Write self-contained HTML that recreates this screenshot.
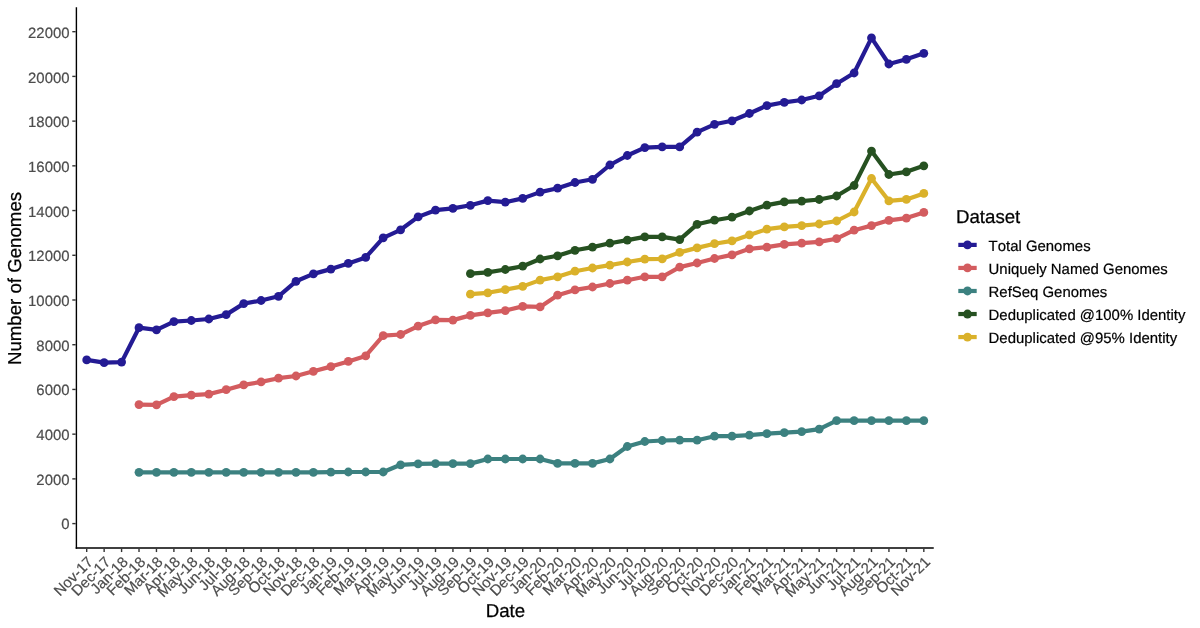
<!DOCTYPE html>
<html lang="en"><head><meta charset="utf-8"><title>Number of Genomes by Date</title>
<style>
html,body{margin:0;padding:0;background:#fff;}
body{width:1200px;height:628px;overflow:hidden;}
svg{display:block;text-rendering:geometricPrecision;font-kerning:none;font-family:"Liberation Sans",sans-serif;}
.tk{font-size:14.93px;fill:#4D4D4D;stroke:#4D4D4D;stroke-width:0.18px;}
.ti{font-size:18.67px;fill:#000;stroke:#000;stroke-width:0.25px;}
.lg{font-size:14.93px;fill:#000;stroke:#000;stroke-width:0.2px;}
</style></head><body>
<svg width="1200" height="628" viewBox="0 0 1200 628">
<rect width="1200" height="628" fill="#fff"/>
<g fill="#241B94" stroke="none"><polyline points="86.7,359.9 104.1,362.6 121.6,362.1 139.0,327.7 156.5,329.8 173.9,321.6 191.3,320.5 208.8,319.0 226.2,314.6 243.7,303.6 261.1,300.5 278.5,296.3 296.0,281.3 313.4,273.9 330.9,269.1 348.3,263.4 365.7,257.4 383.2,237.8 400.6,229.8 418.1,216.9 435.5,210.2 452.9,208.4 470.4,205.3 487.8,200.6 505.3,202.1 522.7,198.4 540.1,192.1 557.6,188.2 575.0,182.5 592.5,179.3 609.9,165.0 627.3,155.5 644.8,147.6 662.2,146.8 679.7,146.9 697.1,132.2 714.5,124.3 732.0,120.8 749.4,113.5 766.9,105.6 784.3,102.3 801.7,100.0 819.2,95.8 836.6,83.7 854.1,73.0 871.5,37.9 888.9,64.0 906.4,59.3 923.8,53.3" fill="none" stroke="#241B94" stroke-width="4.2" stroke-linejoin="round" stroke-linecap="butt"/><circle cx="86.7" cy="359.9" r="4.4"/><circle cx="104.1" cy="362.6" r="4.4"/><circle cx="121.6" cy="362.1" r="4.4"/><circle cx="139.0" cy="327.7" r="4.4"/><circle cx="156.5" cy="329.8" r="4.4"/><circle cx="173.9" cy="321.6" r="4.4"/><circle cx="191.3" cy="320.5" r="4.4"/><circle cx="208.8" cy="319.0" r="4.4"/><circle cx="226.2" cy="314.6" r="4.4"/><circle cx="243.7" cy="303.6" r="4.4"/><circle cx="261.1" cy="300.5" r="4.4"/><circle cx="278.5" cy="296.3" r="4.4"/><circle cx="296.0" cy="281.3" r="4.4"/><circle cx="313.4" cy="273.9" r="4.4"/><circle cx="330.9" cy="269.1" r="4.4"/><circle cx="348.3" cy="263.4" r="4.4"/><circle cx="365.7" cy="257.4" r="4.4"/><circle cx="383.2" cy="237.8" r="4.4"/><circle cx="400.6" cy="229.8" r="4.4"/><circle cx="418.1" cy="216.9" r="4.4"/><circle cx="435.5" cy="210.2" r="4.4"/><circle cx="452.9" cy="208.4" r="4.4"/><circle cx="470.4" cy="205.3" r="4.4"/><circle cx="487.8" cy="200.6" r="4.4"/><circle cx="505.3" cy="202.1" r="4.4"/><circle cx="522.7" cy="198.4" r="4.4"/><circle cx="540.1" cy="192.1" r="4.4"/><circle cx="557.6" cy="188.2" r="4.4"/><circle cx="575.0" cy="182.5" r="4.4"/><circle cx="592.5" cy="179.3" r="4.4"/><circle cx="609.9" cy="165.0" r="4.4"/><circle cx="627.3" cy="155.5" r="4.4"/><circle cx="644.8" cy="147.6" r="4.4"/><circle cx="662.2" cy="146.8" r="4.4"/><circle cx="679.7" cy="146.9" r="4.4"/><circle cx="697.1" cy="132.2" r="4.4"/><circle cx="714.5" cy="124.3" r="4.4"/><circle cx="732.0" cy="120.8" r="4.4"/><circle cx="749.4" cy="113.5" r="4.4"/><circle cx="766.9" cy="105.6" r="4.4"/><circle cx="784.3" cy="102.3" r="4.4"/><circle cx="801.7" cy="100.0" r="4.4"/><circle cx="819.2" cy="95.8" r="4.4"/><circle cx="836.6" cy="83.7" r="4.4"/><circle cx="854.1" cy="73.0" r="4.4"/><circle cx="871.5" cy="37.9" r="4.4"/><circle cx="888.9" cy="64.0" r="4.4"/><circle cx="906.4" cy="59.3" r="4.4"/><circle cx="923.8" cy="53.3" r="4.4"/></g>
<g fill="#D35C5F" stroke="none"><polyline points="139.0,404.6 156.5,404.8 173.9,396.6 191.3,395.2 208.8,394.1 226.2,389.7 243.7,384.9 261.1,381.9 278.5,378.2 296.0,376.0 313.4,371.3 330.9,366.6 348.3,361.4 365.7,355.9 383.2,335.7 400.6,334.5 418.1,326.1 435.5,319.9 452.9,320.1 470.4,315.4 487.8,312.8 505.3,310.6 522.7,306.4 540.1,306.9 557.6,295.2 575.0,289.9 592.5,287.0 609.9,283.5 627.3,280.2 644.8,276.8 662.2,276.8 679.7,267.1 697.1,263.0 714.5,258.5 732.0,254.9 749.4,248.8 766.9,247.1 784.3,244.4 801.7,243.2 819.2,241.9 836.6,238.7 854.1,230.2 871.5,225.6 888.9,220.3 906.4,218.1 923.8,212.4" fill="none" stroke="#D35C5F" stroke-width="4.2" stroke-linejoin="round" stroke-linecap="butt"/><circle cx="139.0" cy="404.6" r="4.4"/><circle cx="156.5" cy="404.8" r="4.4"/><circle cx="173.9" cy="396.6" r="4.4"/><circle cx="191.3" cy="395.2" r="4.4"/><circle cx="208.8" cy="394.1" r="4.4"/><circle cx="226.2" cy="389.7" r="4.4"/><circle cx="243.7" cy="384.9" r="4.4"/><circle cx="261.1" cy="381.9" r="4.4"/><circle cx="278.5" cy="378.2" r="4.4"/><circle cx="296.0" cy="376.0" r="4.4"/><circle cx="313.4" cy="371.3" r="4.4"/><circle cx="330.9" cy="366.6" r="4.4"/><circle cx="348.3" cy="361.4" r="4.4"/><circle cx="365.7" cy="355.9" r="4.4"/><circle cx="383.2" cy="335.7" r="4.4"/><circle cx="400.6" cy="334.5" r="4.4"/><circle cx="418.1" cy="326.1" r="4.4"/><circle cx="435.5" cy="319.9" r="4.4"/><circle cx="452.9" cy="320.1" r="4.4"/><circle cx="470.4" cy="315.4" r="4.4"/><circle cx="487.8" cy="312.8" r="4.4"/><circle cx="505.3" cy="310.6" r="4.4"/><circle cx="522.7" cy="306.4" r="4.4"/><circle cx="540.1" cy="306.9" r="4.4"/><circle cx="557.6" cy="295.2" r="4.4"/><circle cx="575.0" cy="289.9" r="4.4"/><circle cx="592.5" cy="287.0" r="4.4"/><circle cx="609.9" cy="283.5" r="4.4"/><circle cx="627.3" cy="280.2" r="4.4"/><circle cx="644.8" cy="276.8" r="4.4"/><circle cx="662.2" cy="276.8" r="4.4"/><circle cx="679.7" cy="267.1" r="4.4"/><circle cx="697.1" cy="263.0" r="4.4"/><circle cx="714.5" cy="258.5" r="4.4"/><circle cx="732.0" cy="254.9" r="4.4"/><circle cx="749.4" cy="248.8" r="4.4"/><circle cx="766.9" cy="247.1" r="4.4"/><circle cx="784.3" cy="244.4" r="4.4"/><circle cx="801.7" cy="243.2" r="4.4"/><circle cx="819.2" cy="241.9" r="4.4"/><circle cx="836.6" cy="238.7" r="4.4"/><circle cx="854.1" cy="230.2" r="4.4"/><circle cx="871.5" cy="225.6" r="4.4"/><circle cx="888.9" cy="220.3" r="4.4"/><circle cx="906.4" cy="218.1" r="4.4"/><circle cx="923.8" cy="212.4" r="4.4"/></g>
<g fill="#3C8180" stroke="none"><polyline points="139.0,472.3 156.5,472.3 173.9,472.3 191.3,472.3 208.8,472.3 226.2,472.3 243.7,472.3 261.1,472.3 278.5,472.3 296.0,472.3 313.4,472.3 330.9,472.2 348.3,472.0 365.7,472.0 383.2,472.0 400.6,464.8 418.1,463.8 435.5,463.6 452.9,463.6 470.4,463.6 487.8,459.0 505.3,459.0 522.7,459.0 540.1,459.0 557.6,463.4 575.0,463.4 592.5,463.4 609.9,459.0 627.3,446.5 644.8,441.5 662.2,440.5 679.7,440.1 697.1,440.2 714.5,436.2 732.0,436.2 749.4,435.2 766.9,433.7 784.3,432.7 801.7,431.6 819.2,429.1 836.6,420.7 854.1,420.7 871.5,420.7 888.9,420.7 906.4,420.7 923.8,420.7" fill="none" stroke="#3C8180" stroke-width="4.2" stroke-linejoin="round" stroke-linecap="butt"/><circle cx="139.0" cy="472.3" r="4.4"/><circle cx="156.5" cy="472.3" r="4.4"/><circle cx="173.9" cy="472.3" r="4.4"/><circle cx="191.3" cy="472.3" r="4.4"/><circle cx="208.8" cy="472.3" r="4.4"/><circle cx="226.2" cy="472.3" r="4.4"/><circle cx="243.7" cy="472.3" r="4.4"/><circle cx="261.1" cy="472.3" r="4.4"/><circle cx="278.5" cy="472.3" r="4.4"/><circle cx="296.0" cy="472.3" r="4.4"/><circle cx="313.4" cy="472.3" r="4.4"/><circle cx="330.9" cy="472.2" r="4.4"/><circle cx="348.3" cy="472.0" r="4.4"/><circle cx="365.7" cy="472.0" r="4.4"/><circle cx="383.2" cy="472.0" r="4.4"/><circle cx="400.6" cy="464.8" r="4.4"/><circle cx="418.1" cy="463.8" r="4.4"/><circle cx="435.5" cy="463.6" r="4.4"/><circle cx="452.9" cy="463.6" r="4.4"/><circle cx="470.4" cy="463.6" r="4.4"/><circle cx="487.8" cy="459.0" r="4.4"/><circle cx="505.3" cy="459.0" r="4.4"/><circle cx="522.7" cy="459.0" r="4.4"/><circle cx="540.1" cy="459.0" r="4.4"/><circle cx="557.6" cy="463.4" r="4.4"/><circle cx="575.0" cy="463.4" r="4.4"/><circle cx="592.5" cy="463.4" r="4.4"/><circle cx="609.9" cy="459.0" r="4.4"/><circle cx="627.3" cy="446.5" r="4.4"/><circle cx="644.8" cy="441.5" r="4.4"/><circle cx="662.2" cy="440.5" r="4.4"/><circle cx="679.7" cy="440.1" r="4.4"/><circle cx="697.1" cy="440.2" r="4.4"/><circle cx="714.5" cy="436.2" r="4.4"/><circle cx="732.0" cy="436.2" r="4.4"/><circle cx="749.4" cy="435.2" r="4.4"/><circle cx="766.9" cy="433.7" r="4.4"/><circle cx="784.3" cy="432.7" r="4.4"/><circle cx="801.7" cy="431.6" r="4.4"/><circle cx="819.2" cy="429.1" r="4.4"/><circle cx="836.6" cy="420.7" r="4.4"/><circle cx="854.1" cy="420.7" r="4.4"/><circle cx="871.5" cy="420.7" r="4.4"/><circle cx="888.9" cy="420.7" r="4.4"/><circle cx="906.4" cy="420.7" r="4.4"/><circle cx="923.8" cy="420.7" r="4.4"/></g>
<g fill="#265121" stroke="none"><polyline points="470.4,273.6 487.8,272.4 505.3,269.5 522.7,266.2 540.1,259.0 557.6,255.8 575.0,250.3 592.5,247.1 609.9,243.2 627.3,240.1 644.8,236.9 662.2,236.9 679.7,239.6 697.1,224.3 714.5,220.2 732.0,217.2 749.4,211.0 766.9,205.1 784.3,201.9 801.7,201.1 819.2,199.5 836.6,196.0 854.1,185.5 871.5,151.1 888.9,174.5 906.4,171.8 923.8,165.8" fill="none" stroke="#265121" stroke-width="4.2" stroke-linejoin="round" stroke-linecap="butt"/><circle cx="470.4" cy="273.6" r="4.4"/><circle cx="487.8" cy="272.4" r="4.4"/><circle cx="505.3" cy="269.5" r="4.4"/><circle cx="522.7" cy="266.2" r="4.4"/><circle cx="540.1" cy="259.0" r="4.4"/><circle cx="557.6" cy="255.8" r="4.4"/><circle cx="575.0" cy="250.3" r="4.4"/><circle cx="592.5" cy="247.1" r="4.4"/><circle cx="609.9" cy="243.2" r="4.4"/><circle cx="627.3" cy="240.1" r="4.4"/><circle cx="644.8" cy="236.9" r="4.4"/><circle cx="662.2" cy="236.9" r="4.4"/><circle cx="679.7" cy="239.6" r="4.4"/><circle cx="697.1" cy="224.3" r="4.4"/><circle cx="714.5" cy="220.2" r="4.4"/><circle cx="732.0" cy="217.2" r="4.4"/><circle cx="749.4" cy="211.0" r="4.4"/><circle cx="766.9" cy="205.1" r="4.4"/><circle cx="784.3" cy="201.9" r="4.4"/><circle cx="801.7" cy="201.1" r="4.4"/><circle cx="819.2" cy="199.5" r="4.4"/><circle cx="836.6" cy="196.0" r="4.4"/><circle cx="854.1" cy="185.5" r="4.4"/><circle cx="871.5" cy="151.1" r="4.4"/><circle cx="888.9" cy="174.5" r="4.4"/><circle cx="906.4" cy="171.8" r="4.4"/><circle cx="923.8" cy="165.8" r="4.4"/></g>
<g fill="#DAB12A" stroke="none"><polyline points="470.4,294.2 487.8,292.8 505.3,289.6 522.7,286.4 540.1,280.1 557.6,276.8 575.0,271.2 592.5,268.0 609.9,265.1 627.3,262.0 644.8,259.1 662.2,258.9 679.7,252.4 697.1,247.9 714.5,243.7 732.0,240.9 749.4,234.9 766.9,229.2 784.3,226.9 801.7,225.6 819.2,224.0 836.6,221.0 854.1,212.0 871.5,178.5 888.9,200.9 906.4,199.4 923.8,193.4" fill="none" stroke="#DAB12A" stroke-width="4.2" stroke-linejoin="round" stroke-linecap="butt"/><circle cx="470.4" cy="294.2" r="4.4"/><circle cx="487.8" cy="292.8" r="4.4"/><circle cx="505.3" cy="289.6" r="4.4"/><circle cx="522.7" cy="286.4" r="4.4"/><circle cx="540.1" cy="280.1" r="4.4"/><circle cx="557.6" cy="276.8" r="4.4"/><circle cx="575.0" cy="271.2" r="4.4"/><circle cx="592.5" cy="268.0" r="4.4"/><circle cx="609.9" cy="265.1" r="4.4"/><circle cx="627.3" cy="262.0" r="4.4"/><circle cx="644.8" cy="259.1" r="4.4"/><circle cx="662.2" cy="258.9" r="4.4"/><circle cx="679.7" cy="252.4" r="4.4"/><circle cx="697.1" cy="247.9" r="4.4"/><circle cx="714.5" cy="243.7" r="4.4"/><circle cx="732.0" cy="240.9" r="4.4"/><circle cx="749.4" cy="234.9" r="4.4"/><circle cx="766.9" cy="229.2" r="4.4"/><circle cx="784.3" cy="226.9" r="4.4"/><circle cx="801.7" cy="225.6" r="4.4"/><circle cx="819.2" cy="224.0" r="4.4"/><circle cx="836.6" cy="221.0" r="4.4"/><circle cx="854.1" cy="212.0" r="4.4"/><circle cx="871.5" cy="178.5" r="4.4"/><circle cx="888.9" cy="200.9" r="4.4"/><circle cx="906.4" cy="199.4" r="4.4"/><circle cx="923.8" cy="193.4" r="4.4"/></g>
<g stroke="#000" stroke-width="1.4" fill="none" stroke-linecap="square"><line x1="76.4" y1="7.9" x2="76.4" y2="547.95"/><line x1="76.4" y1="547.95" x2="933.05" y2="547.95"/></g>
<g stroke="#333" stroke-width="1.4"><line x1="72.30" y1="523.60" x2="75.70" y2="523.60"/><line x1="72.30" y1="478.88" x2="75.70" y2="478.88"/><line x1="72.30" y1="434.16" x2="75.70" y2="434.16"/><line x1="72.30" y1="389.44" x2="75.70" y2="389.44"/><line x1="72.30" y1="344.72" x2="75.70" y2="344.72"/><line x1="72.30" y1="300.00" x2="75.70" y2="300.00"/><line x1="72.30" y1="255.28" x2="75.70" y2="255.28"/><line x1="72.30" y1="210.56" x2="75.70" y2="210.56"/><line x1="72.30" y1="165.84" x2="75.70" y2="165.84"/><line x1="72.30" y1="121.12" x2="75.70" y2="121.12"/><line x1="72.30" y1="76.40" x2="75.70" y2="76.40"/><line x1="72.30" y1="31.68" x2="75.70" y2="31.68"/><line x1="86.70" y1="548.65" x2="86.70" y2="552.05"/><line x1="104.14" y1="548.65" x2="104.14" y2="552.05"/><line x1="121.58" y1="548.65" x2="121.58" y2="552.05"/><line x1="139.02" y1="548.65" x2="139.02" y2="552.05"/><line x1="156.46" y1="548.65" x2="156.46" y2="552.05"/><line x1="173.90" y1="548.65" x2="173.90" y2="552.05"/><line x1="191.34" y1="548.65" x2="191.34" y2="552.05"/><line x1="208.78" y1="548.65" x2="208.78" y2="552.05"/><line x1="226.22" y1="548.65" x2="226.22" y2="552.05"/><line x1="243.66" y1="548.65" x2="243.66" y2="552.05"/><line x1="261.10" y1="548.65" x2="261.10" y2="552.05"/><line x1="278.54" y1="548.65" x2="278.54" y2="552.05"/><line x1="295.98" y1="548.65" x2="295.98" y2="552.05"/><line x1="313.42" y1="548.65" x2="313.42" y2="552.05"/><line x1="330.86" y1="548.65" x2="330.86" y2="552.05"/><line x1="348.30" y1="548.65" x2="348.30" y2="552.05"/><line x1="365.74" y1="548.65" x2="365.74" y2="552.05"/><line x1="383.18" y1="548.65" x2="383.18" y2="552.05"/><line x1="400.62" y1="548.65" x2="400.62" y2="552.05"/><line x1="418.06" y1="548.65" x2="418.06" y2="552.05"/><line x1="435.50" y1="548.65" x2="435.50" y2="552.05"/><line x1="452.94" y1="548.65" x2="452.94" y2="552.05"/><line x1="470.38" y1="548.65" x2="470.38" y2="552.05"/><line x1="487.82" y1="548.65" x2="487.82" y2="552.05"/><line x1="505.26" y1="548.65" x2="505.26" y2="552.05"/><line x1="522.70" y1="548.65" x2="522.70" y2="552.05"/><line x1="540.14" y1="548.65" x2="540.14" y2="552.05"/><line x1="557.58" y1="548.65" x2="557.58" y2="552.05"/><line x1="575.02" y1="548.65" x2="575.02" y2="552.05"/><line x1="592.46" y1="548.65" x2="592.46" y2="552.05"/><line x1="609.90" y1="548.65" x2="609.90" y2="552.05"/><line x1="627.34" y1="548.65" x2="627.34" y2="552.05"/><line x1="644.78" y1="548.65" x2="644.78" y2="552.05"/><line x1="662.22" y1="548.65" x2="662.22" y2="552.05"/><line x1="679.66" y1="548.65" x2="679.66" y2="552.05"/><line x1="697.10" y1="548.65" x2="697.10" y2="552.05"/><line x1="714.54" y1="548.65" x2="714.54" y2="552.05"/><line x1="731.98" y1="548.65" x2="731.98" y2="552.05"/><line x1="749.42" y1="548.65" x2="749.42" y2="552.05"/><line x1="766.86" y1="548.65" x2="766.86" y2="552.05"/><line x1="784.30" y1="548.65" x2="784.30" y2="552.05"/><line x1="801.74" y1="548.65" x2="801.74" y2="552.05"/><line x1="819.18" y1="548.65" x2="819.18" y2="552.05"/><line x1="836.62" y1="548.65" x2="836.62" y2="552.05"/><line x1="854.06" y1="548.65" x2="854.06" y2="552.05"/><line x1="871.50" y1="548.65" x2="871.50" y2="552.05"/><line x1="888.94" y1="548.65" x2="888.94" y2="552.05"/><line x1="906.38" y1="548.65" x2="906.38" y2="552.05"/><line x1="923.82" y1="548.65" x2="923.82" y2="552.05"/></g>
<g class="tk" text-anchor="end"><text x="69.55" y="529.15">0</text><text x="69.55" y="484.52">2000</text><text x="69.55" y="439.89">4000</text><text x="69.55" y="395.26">6000</text><text x="69.55" y="350.63">8000</text><text x="69.55" y="306.00">10000</text><text x="69.55" y="261.38">12000</text><text x="69.55" y="216.75">14000</text><text x="69.55" y="172.12">16000</text><text x="69.55" y="127.49">18000</text><text x="69.55" y="82.86">20000</text><text x="69.55" y="38.23">22000</text></g>
<g class="tk" text-anchor="end"><text transform="translate(86.40,555.2) rotate(-45)" x="0" y="10.69">Nov-17</text><text transform="translate(103.84,555.2) rotate(-45)" x="0" y="10.69">Dec-17</text><text transform="translate(121.28,555.2) rotate(-45)" x="0" y="10.69">Jan-18</text><text transform="translate(138.72,555.2) rotate(-45)" x="0" y="10.69">Feb-18</text><text transform="translate(156.16,555.2) rotate(-45)" x="0" y="10.69">Mar-18</text><text transform="translate(173.60,555.2) rotate(-45)" x="0" y="10.69">Apr-18</text><text transform="translate(191.04,555.2) rotate(-45)" x="0" y="10.69">May-18</text><text transform="translate(208.48,555.2) rotate(-45)" x="0" y="10.69">Jun-18</text><text transform="translate(225.92,555.2) rotate(-45)" x="0" y="10.69">Jul-18</text><text transform="translate(243.36,555.2) rotate(-45)" x="0" y="10.69">Aug-18</text><text transform="translate(260.80,555.2) rotate(-45)" x="0" y="10.69">Sep-18</text><text transform="translate(278.24,555.2) rotate(-45)" x="0" y="10.69">Oct-18</text><text transform="translate(295.68,555.2) rotate(-45)" x="0" y="10.69">Nov-18</text><text transform="translate(313.12,555.2) rotate(-45)" x="0" y="10.69">Dec-18</text><text transform="translate(330.56,555.2) rotate(-45)" x="0" y="10.69">Jan-19</text><text transform="translate(348.00,555.2) rotate(-45)" x="0" y="10.69">Feb-19</text><text transform="translate(365.44,555.2) rotate(-45)" x="0" y="10.69">Mar-19</text><text transform="translate(382.88,555.2) rotate(-45)" x="0" y="10.69">Apr-19</text><text transform="translate(400.32,555.2) rotate(-45)" x="0" y="10.69">May-19</text><text transform="translate(417.76,555.2) rotate(-45)" x="0" y="10.69">Jun-19</text><text transform="translate(435.20,555.2) rotate(-45)" x="0" y="10.69">Jul-19</text><text transform="translate(452.64,555.2) rotate(-45)" x="0" y="10.69">Aug-19</text><text transform="translate(470.08,555.2) rotate(-45)" x="0" y="10.69">Sep-19</text><text transform="translate(487.52,555.2) rotate(-45)" x="0" y="10.69">Oct-19</text><text transform="translate(504.96,555.2) rotate(-45)" x="0" y="10.69">Nov-19</text><text transform="translate(522.40,555.2) rotate(-45)" x="0" y="10.69">Dec-19</text><text transform="translate(539.84,555.2) rotate(-45)" x="0" y="10.69">Jan-20</text><text transform="translate(557.28,555.2) rotate(-45)" x="0" y="10.69">Feb-20</text><text transform="translate(574.72,555.2) rotate(-45)" x="0" y="10.69">Mar-20</text><text transform="translate(592.16,555.2) rotate(-45)" x="0" y="10.69">Apr-20</text><text transform="translate(609.60,555.2) rotate(-45)" x="0" y="10.69">May-20</text><text transform="translate(627.04,555.2) rotate(-45)" x="0" y="10.69">Jun-20</text><text transform="translate(644.48,555.2) rotate(-45)" x="0" y="10.69">Jul-20</text><text transform="translate(661.92,555.2) rotate(-45)" x="0" y="10.69">Aug-20</text><text transform="translate(679.36,555.2) rotate(-45)" x="0" y="10.69">Sep-20</text><text transform="translate(696.80,555.2) rotate(-45)" x="0" y="10.69">Oct-20</text><text transform="translate(714.24,555.2) rotate(-45)" x="0" y="10.69">Nov-20</text><text transform="translate(731.68,555.2) rotate(-45)" x="0" y="10.69">Dec-20</text><text transform="translate(749.12,555.2) rotate(-45)" x="0" y="10.69">Jan-21</text><text transform="translate(766.56,555.2) rotate(-45)" x="0" y="10.69">Feb-21</text><text transform="translate(784.00,555.2) rotate(-45)" x="0" y="10.69">Mar-21</text><text transform="translate(801.44,555.2) rotate(-45)" x="0" y="10.69">Apr-21</text><text transform="translate(818.88,555.2) rotate(-45)" x="0" y="10.69">May-21</text><text transform="translate(836.32,555.2) rotate(-45)" x="0" y="10.69">Jun-21</text><text transform="translate(853.76,555.2) rotate(-45)" x="0" y="10.69">Jul-21</text><text transform="translate(871.20,555.2) rotate(-45)" x="0" y="10.69">Aug-21</text><text transform="translate(888.64,555.2) rotate(-45)" x="0" y="10.69">Sep-21</text><text transform="translate(906.08,555.2) rotate(-45)" x="0" y="10.69">Oct-21</text><text transform="translate(923.52,555.2) rotate(-45)" x="0" y="10.69">Nov-21</text></g>
<text class="ti" x="505.4" y="617.1" text-anchor="middle">Date</text>
<text class="ti" transform="translate(20.6,278.5) rotate(-90)" text-anchor="middle">Number of Genomes</text>
<text class="ti" x="956.0" y="222.5">Dataset</text>
<line x1="958.3" y1="244.90" x2="976.7" y2="244.90" stroke="#241B94" stroke-width="4.2"/><circle cx="967.5" cy="244.90" r="4.4" fill="#241B94"/><text class="lg" x="988.6" y="250.85">Total Genomes</text>
<line x1="958.3" y1="267.94" x2="976.7" y2="267.94" stroke="#D35C5F" stroke-width="4.2"/><circle cx="967.5" cy="267.94" r="4.4" fill="#D35C5F"/><text class="lg" x="988.6" y="273.89">Uniquely Named Genomes</text>
<line x1="958.3" y1="290.98" x2="976.7" y2="290.98" stroke="#3C8180" stroke-width="4.2"/><circle cx="967.5" cy="290.98" r="4.4" fill="#3C8180"/><text class="lg" x="988.6" y="296.93">RefSeq Genomes</text>
<line x1="958.3" y1="314.02" x2="976.7" y2="314.02" stroke="#265121" stroke-width="4.2"/><circle cx="967.5" cy="314.02" r="4.4" fill="#265121"/><text class="lg" x="988.6" y="319.97">Deduplicated @100% Identity</text>
<line x1="958.3" y1="337.06" x2="976.7" y2="337.06" stroke="#DAB12A" stroke-width="4.2"/><circle cx="967.5" cy="337.06" r="4.4" fill="#DAB12A"/><text class="lg" x="988.6" y="343.01">Deduplicated @95% Identity</text>
</svg>
</body></html>
